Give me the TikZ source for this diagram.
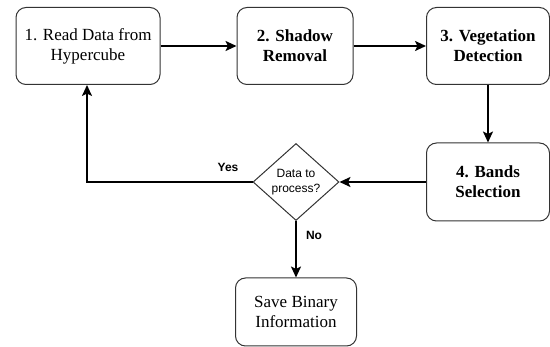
\documentclass[tikz,border=0pt]{standalone}
\usepackage{fontspec}
\setmainfont{Liberation Serif}
\newfontfamily\timesf{Liberation Serif}
\newfontfamily\arialf{Liberation Sans}
\usetikzlibrary{shapes.geometric,arrows.meta}
\begin{document}
\begin{tikzpicture}[x=1pt,y=-1pt,
  procbox/.style={draw=black!80, line width=1pt, rounded corners=10pt, align=center,
     inner sep=0pt, font=\timesf\fontsize{17}{20}\selectfont},
  boldbox/.style={procbox, font=\timesf\fontsize{17}{20}\selectfont\bfseries},
  decbox/.style={draw=black!80, line width=1pt, shape=diamond, inner sep=0pt, align=center,
     font=\arialf\fontsize{12}{15}\selectfont},
  flow/.style={line width=2pt, -{Stealth[length=11pt,width=10pt,inset=2.5pt]}},
  lbl/.style={font=\arialf\bfseries\fontsize{12}{14}\selectfont}]
\useasboundingbox (0,0) rectangle (550,347);
\node[procbox, minimum width=144pt, minimum height=77pt] (b1) at (88,46) {1. Read Data from\\Hypercube};
\node[boldbox, minimum width=116pt, minimum height=77pt] (b2) at (295,46) {2. Shadow\\Removal};
\node[boldbox, minimum width=123pt, minimum height=77pt] (b3) at (488,46) {3. Vegetation\\Detection};
\node[boldbox, minimum width=123pt, minimum height=78pt] (b4) at (488,182) {4. Bands\\Selection};
\node[decbox, minimum width=86pt, minimum height=77pt] (d) at (296,182) {Data to\\process?};
\node[procbox, minimum width=121pt, minimum height=68pt] (s) at (296,312) {Save Binary\\Information};
\coordinate (c) at (87,182);
\draw[flow] (b1.east) -- (b2.west);
\draw[flow] (b2.east) -- (b3.west);
\draw[flow] (b3.south) -- (b4.north);
\draw[flow] (b4.west) -- (d.east);
\draw[flow] (d.west) -- (c) -- (b1.south -| c);
\draw[flow] (d.south) -- (s.north);
\node[lbl] (yes) at (228,167) {Yes};
\node[lbl] (no) at (314,235) {No};
\end{tikzpicture}
\end{document}
